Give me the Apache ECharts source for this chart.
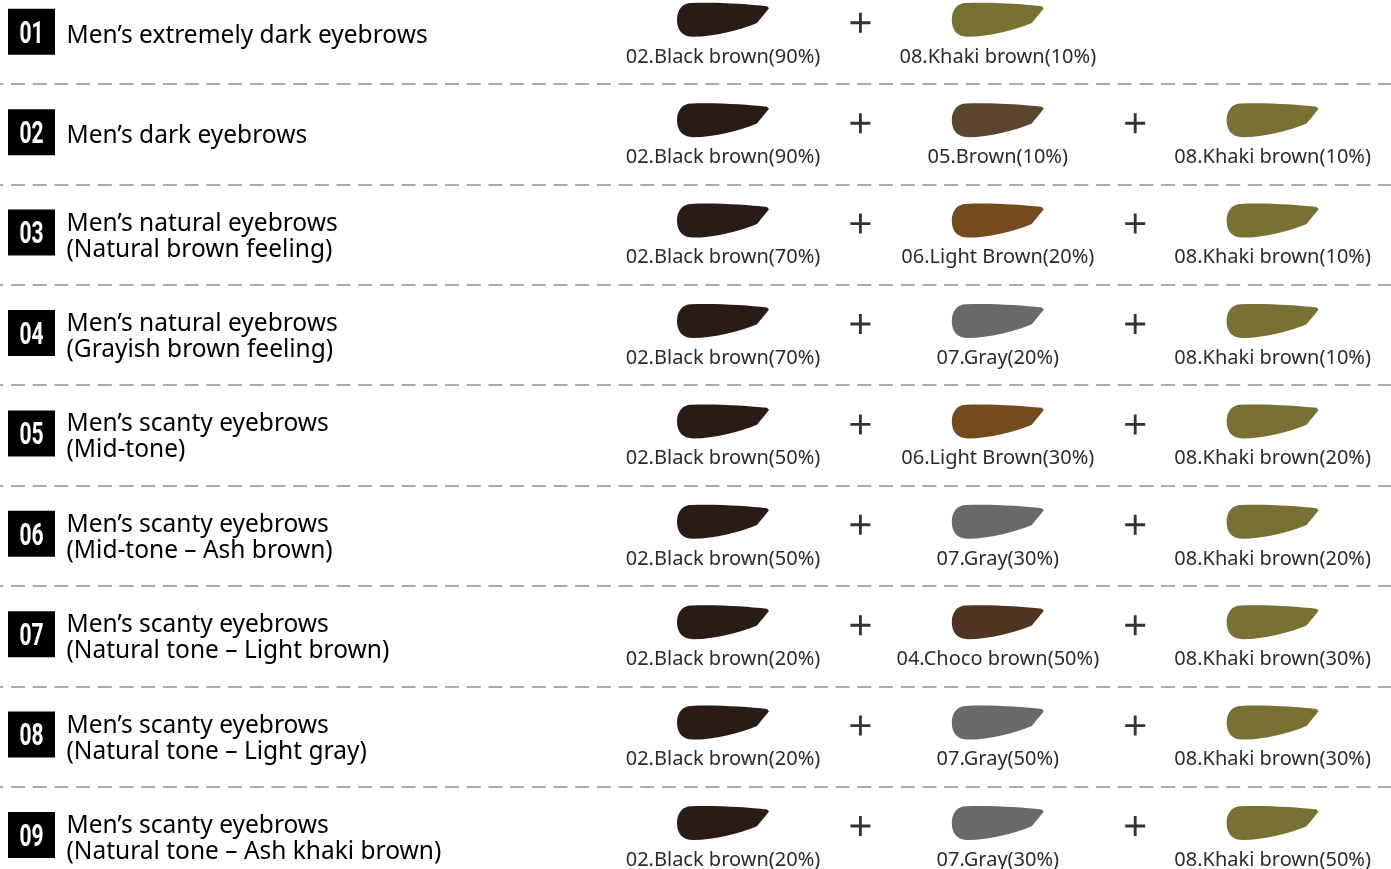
<!DOCTYPE html>
<html><head><meta charset="utf-8">
<script src="https://cdn.jsdelivr.net/npm/echarts@6/dist/echarts.min.js"></script>
<style>html,body{margin:0;padding:0;background:#fff;overflow:hidden}#c{width:1391px;height:869px}</style>
</head><body><div id="c"></div>
<script>
// ---------- data ----------
const rowNumbers = ['01','02','03','04','05','06','07','08','09'];
const rowTitles = [
  'Men’s extremely dark eyebrows',
  'Men’s dark eyebrows',
  'Men’s natural eyebrows\n(Natural brown feeling)',
  'Men’s natural eyebrows\n(Grayish brown feeling)',
  'Men’s scanty eyebrows\n(Mid-tone)',
  'Men’s scanty eyebrows\n(Mid-tone – Ash brown)',
  'Men’s scanty eyebrows\n(Natural tone – Light brown)',
  'Men’s scanty eyebrows\n(Natural tone – Light gray)',
  'Men’s scanty eyebrows\n(Natural tone – Ash khaki brown)'
];
const mixPigments = [
  ['02.Black brown','08.Khaki brown'],
  ['02.Black brown','05.Brown','08.Khaki brown'],
  ['02.Black brown','06.Light Brown','08.Khaki brown'],
  ['02.Black brown','07.Gray','08.Khaki brown'],
  ['02.Black brown','06.Light Brown','08.Khaki brown'],
  ['02.Black brown','07.Gray','08.Khaki brown'],
  ['02.Black brown','04.Choco brown','08.Khaki brown'],
  ['02.Black brown','07.Gray','08.Khaki brown'],
  ['02.Black brown','07.Gray','08.Khaki brown']
];
const mixPercents = [
  [90,10],
  [90,10,10],
  [70,20,10],
  [70,20,10],
  [50,30,20],
  [50,30,20],
  [20,50,30],
  [20,50,30],
  [20,30,50]
];

// ---------- styles / layout ----------
const pigmentColors = {
  '02.Black brown':'#2a1c14',
  '04.Choco brown':'#4e3421',
  '05.Brown':'#5b472d',
  '06.Light Brown':'#734b1f',
  '07.Gray':'#6b6967',
  '08.Khaki brown':'#787133'
};
const W = 1391, H = 869;
const COL_X0 = 723, COL_PITCH = 274.8;
const ROW_Y0 = 33.8, ROW_PITCH = 100.4;
const BADGE_PX = 31.5, TITLE_PX = 66;
const px2x = p => (p - COL_X0) / COL_PITCH;
const SWATCH_PATH = 'path://M14 1C40 0 70 2 90 4L92 6C88 11 84 15 80 20C62 27 38 33 16 33C6 33 0 27 0 17C0 7 6 1 14 1Z';
const PLUS_PATH = 'path://M9 0H12V9H21V12H12V21H9V12H0V9H9Z';
const FONT = "'Noto Sans', 'DejaVu Sans', sans-serif";

const swatchData = [], labelData = [], plusData = [], badgeData = [], titleData = [];
mixPigments.forEach((row, i) => {
  row.forEach((name, j) => {
    swatchData.push({ value: [j, i], itemStyle: { color: pigmentColors[name] } });
    labelData.push({ value: [j, i], name: name + '(' + mixPercents[i][j] + '%)' });
    if (j > 0) plusData.push([j - 0.5, i]);
  });
  badgeData.push({ value: [px2x(BADGE_PX), i], name: rowNumbers[i] });
  titleData.push({ value: [px2x(TITLE_PX), i], name: rowTitles[i] });
});
const dividers = [];
for (let i = 0; i < rowNumbers.length - 1; i++) dividers.push({ yAxis: i + 0.5 });

const chart = echarts.init(document.getElementById('c'), null, { renderer: 'canvas' });
chart.setOption({
  backgroundColor: '#fff',
  animation: false,
  grid: { left: 0, right: 0, top: 0, bottom: 0 },
  xAxis: { type: 'value', min: -COL_X0 / COL_PITCH, max: (W - COL_X0) / COL_PITCH, show: false },
  yAxis: { type: 'value', inverse: true, min: -ROW_Y0 / ROW_PITCH, max: (H - ROW_Y0) / ROW_PITCH, show: false },
  series: [
    {
      type: 'scatter', name: 'badges', data: badgeData, silent: true,
      symbol: 'rect', symbolSize: [47, 46], symbolOffset: [0, -2],
      itemStyle: { color: '#000', opacity: 1 },
      markLine: {
        silent: true, symbol: 'none', label: { show: false },
        lineStyle: { color: '#ababab', width: 2, type: [14, 7.7], dashOffset: 10.7, opacity: 1 },
        data: dividers
      },
      z: 3
    },
    {
      type: 'scatter', name: 'titles', data: titleData, silent: true,
      symbolSize: 1, itemStyle: { color: 'rgba(0,0,0,0)', opacity: 1 },
      label: { show: true, position: 'right', distance: 0, offset: [0, 2], formatter: p => p.name,
        color: '#000', fontFamily: FONT, fontSize: 24.5, lineHeight: 26, align: 'left' }
    },
    {
      type: 'scatter', name: 'swatches', data: swatchData, silent: true,
      symbol: SWATCH_PATH, symbolSize: [92, 34], symbolOffset: [0, -14],
      itemStyle: { opacity: 1 }
    },
    {
      type: 'scatter', name: 'labels', data: labelData, silent: true,
      symbolSize: 1, itemStyle: { color: 'rgba(0,0,0,0)', opacity: 1 },
      label: { show: true, position: 'inside', offset: [0, 23], formatter: p => p.name,
        color: '#2b2b2b', fontFamily: FONT, fontSize: 20 }
    },
    {
      type: 'scatter', name: 'plus', data: plusData, silent: true,
      symbol: PLUS_PATH, symbolSize: [20, 20], symbolOffset: [0, -11],
      itemStyle: { color: '#333', opacity: 1 }
    }
  ]
});

// badge numbers: condensed look via horizontal scale, positioned through the chart's scales
const badgeTexts = badgeData.map(d => {
  const p = chart.convertToPixel({ seriesIndex: 0 }, d.value);
  return {
    type: 'text', x: p[0], y: p[1] + 1, scaleX: 0.68, silent: true, z: 10,
    style: { text: d.name, fill: '#fff', font: "bold 31px Roboto, 'DejaVu Sans', sans-serif",
      align: 'center', verticalAlign: 'middle' }
  };
});
chart.setOption({ graphic: badgeTexts });
</script></body></html>
